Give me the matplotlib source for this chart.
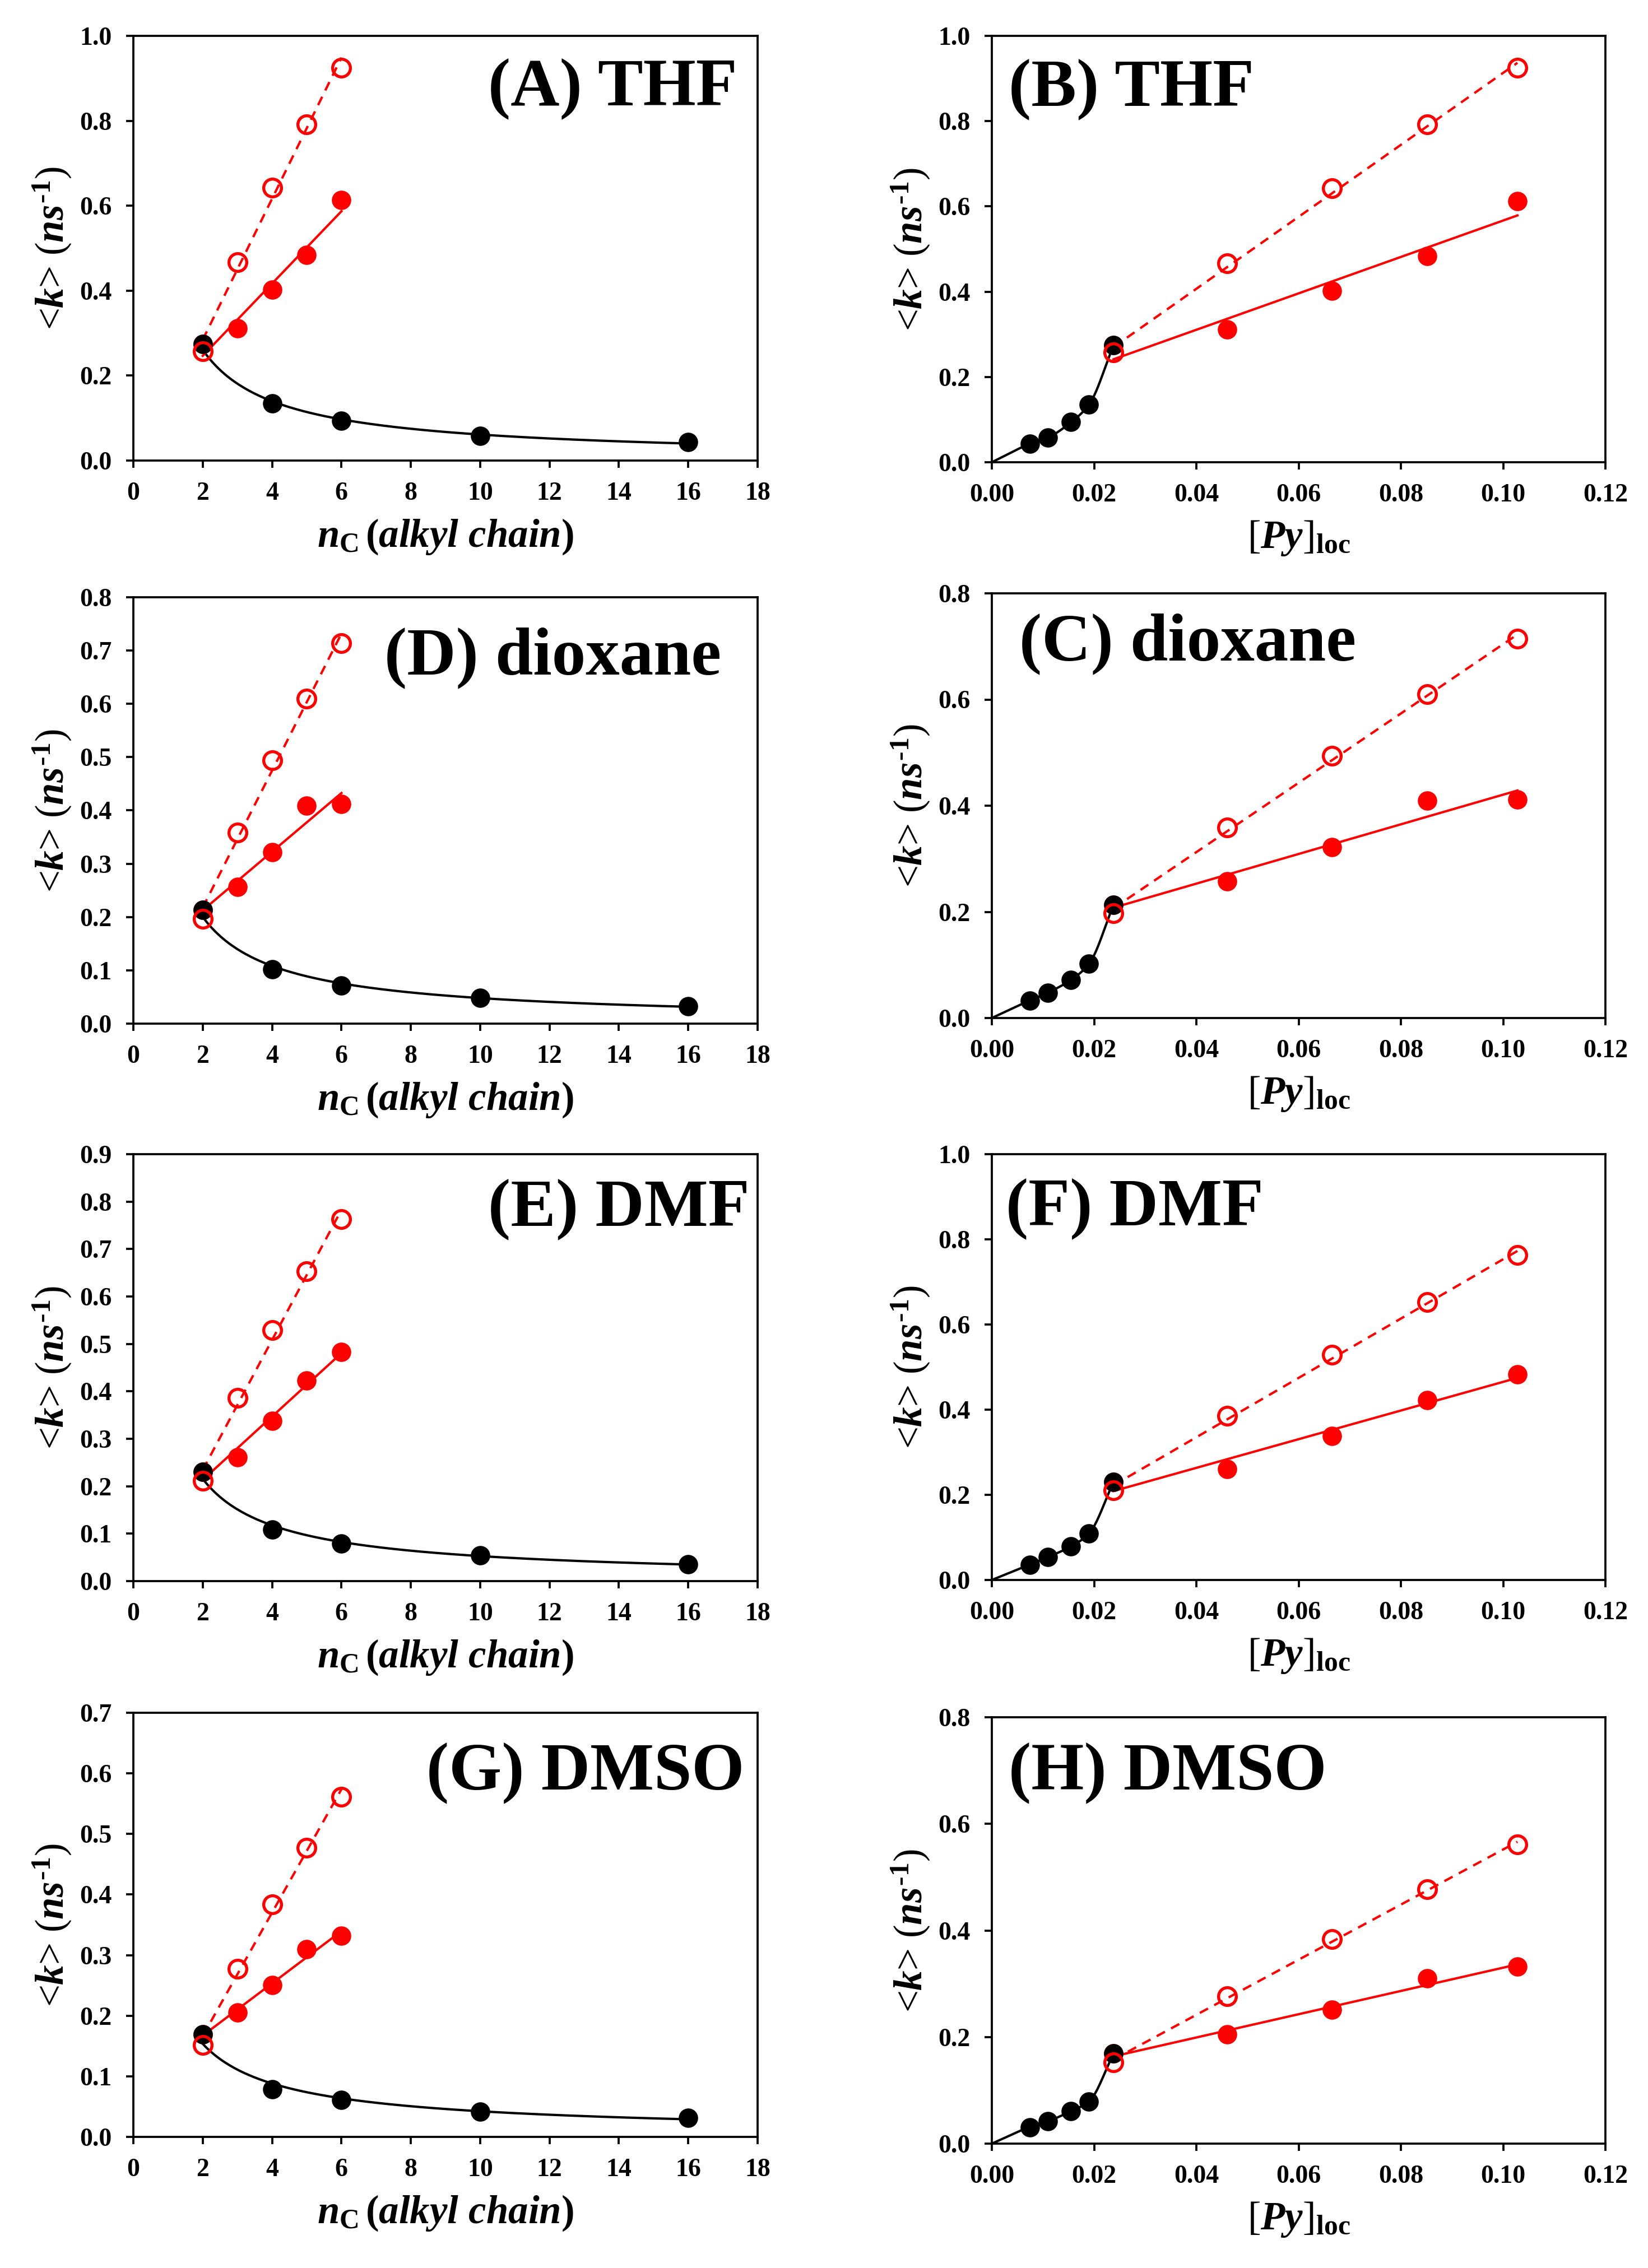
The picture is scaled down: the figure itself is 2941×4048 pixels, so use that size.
import numpy as np
import matplotlib
matplotlib.use('Agg')
import matplotlib.pyplot as plt

plt.rcParams.update({
    'font.family': 'Liberation Serif',
    'font.weight': 'bold',
    'mathtext.fontset': 'custom',
    'mathtext.rm': 'Liberation Serif:bold',
    'mathtext.it': 'Liberation Serif:italic:bold',
    'mathtext.bf': 'Liberation Serif:bold',
    'axes.linewidth': 0.9,
})

# x values
n_black = [2, 4, 6, 10, 16]
n_red = [2, 3, 4, 5, 6]
py_black = [0.0238, 0.0190, 0.0155, 0.0110, 0.0074]
py_red = [0.0238, 0.0460, 0.0665, 0.0852, 0.1028]

# <k> values (ns-1)
thf_black = [0.274, 0.135, 0.094, 0.058, 0.043]
thf_filled = [0.274, 0.311, 0.402, 0.484, 0.613]
thf_open = [0.257, 0.467, 0.642, 0.792, 0.925]

diox_black = [0.213, 0.102, 0.072, 0.048, 0.033]
diox_filled = [0.213, 0.257, 0.322, 0.409, 0.412]
diox_open = [0.197, 0.359, 0.494, 0.610, 0.714]

dmf_black = [0.230, 0.109, 0.079, 0.054, 0.036]
dmf_filled = [0.230, 0.261, 0.338, 0.423, 0.483]
dmf_open = [0.211, 0.386, 0.529, 0.653, 0.763]

dmso_black = [0.169, 0.079, 0.061, 0.042, 0.031]
dmso_filled = [0.169, 0.205, 0.251, 0.310, 0.332]
dmso_open = [0.152, 0.277, 0.384, 0.477, 0.561]

W, H = 2941, 4048
fig = plt.figure(figsize=(W / 300, H / 300), dpi=300)

RED = '#ff0000'
YLAB = '<$\\mathit{k}$> ($\\mathit{ns}^{\\mathrm{\u20101}}$)'
XLAB_L = r'$\mathit{n}_{\mathrm{C}}\,\mathit{(alkyl\ chain)}$'
XLAB_R = r'[$\mathit{Py}$]$_{\mathrm{loc}}$'


def pchip(x, y, xs):
    # monotone cubic curve through the points (for the connecting line only)
    x = np.asarray(x, float)
    y = np.asarray(y, float)
    h = np.diff(x)
    d = np.diff(y) / h
    m = np.zeros_like(y)
    m[0], m[-1] = d[0], d[-1]
    for i in range(1, len(x) - 1):
        if d[i - 1] * d[i] > 0:
            w1 = 2 * h[i] + h[i - 1]
            w2 = h[i] + 2 * h[i - 1]
            m[i] = (w1 + w2) / (w1 / d[i - 1] + w2 / d[i])
    idx = np.clip(np.searchsorted(x, xs) - 1, 0, len(h) - 1)
    t = (xs - x[idx]) / h[idx]
    h00 = 2 * t**3 - 3 * t**2 + 1
    h10 = t**3 - 2 * t**2 + t
    h01 = -2 * t**3 + 3 * t**2
    h11 = t**3 - t**2
    return h00 * y[idx] + h10 * h[idx] * m[idx] + h01 * y[idx + 1] + h11 * h[idx] * m[idx + 1]


def style(ax, xmax, xstep, xfmt, ymax, ystep):
    ax.set_xlim(0, xmax)
    ax.set_ylim(0, ymax)
    ax.set_xticks(np.arange(0, xmax + xstep / 2, xstep))
    ax.set_yticks(np.arange(0, ymax + ystep / 2, ystep))
    ax.xaxis.set_major_formatter(plt.FormatStrFormatter(xfmt))
    ax.yaxis.set_major_formatter(plt.FormatStrFormatter('%.1f'))
    ax.tick_params(direction='out', length=3.2, width=0.9, labelsize=11, pad=6,
                   top=False, right=False)
    ax.set_ylabel(YLAB, fontsize=17, labelpad=3)


def red_series(ax, x, filled, opened):
    xs = np.linspace(min(x), max(x), 50)
    pf = np.polyfit(x, filled, 1)
    po = np.polyfit(x, opened, 1)
    ax.plot(xs, np.polyval(pf, xs), color=RED, lw=1.0, zorder=2)
    ax.plot(xs, np.polyval(po, xs), color=RED, lw=1.0, dashes=(4, 3), zorder=2)
    ax.plot(x, filled, 'o', color=RED, ms=7.3, zorder=3)


def left_panel(rect, black, filled, opened, label, ymax, ystep, lx, ly):
    ax = fig.add_axes(rect)
    b = np.polyfit(np.log(n_black), np.log(black), 1)
    nn = np.linspace(2, 16, 200)
    ax.plot(nn, np.exp(np.polyval(b, np.log(nn))), color='black', lw=1.0, zorder=2)
    red_series(ax, n_red, filled, opened)
    ax.plot(n_black, black, 'o', color='black', ms=7.3, zorder=4)
    ax.plot(n_red, opened, 'o', mfc='none', mec=RED, mew=1.3, ms=7.6, zorder=5)
    style(ax, 18, 2, '%d', ymax, ystep)
    ax.set_xlabel(XLAB_L, fontsize=17, labelpad=5)
    ax.text(lx, ly, label, transform=ax.transAxes, ha='right', va='baseline',
            fontsize=29, fontweight='bold')


def right_panel(rect, black, filled, opened, label, ymax, lx, ly):
    ax = fig.add_axes(rect)
    order = np.argsort(py_black)
    xb = np.r_[0.0, np.array(py_black)[order]]
    yb = np.r_[0.0, np.array(black)[order]]
    xs = np.linspace(0, xb[-1], 300)
    ax.plot(xs, pchip(xb, yb, xs), color='black', lw=1.0, zorder=2)
    red_series(ax, py_red, filled, opened)
    ax.plot(py_black, black, 'o', color='black', ms=7.3, zorder=4)
    ax.plot(py_red, opened, 'o', mfc='none', mec=RED, mew=1.3, ms=7.6, zorder=5)
    style(ax, 0.12, 0.02, '%.2f', ymax, 0.2)
    ax.set_xlabel(XLAB_R, fontsize=17, labelpad=5)
    ax.text(lx, ly, label, transform=ax.transAxes, ha='left', va='baseline',
            fontsize=29, fontweight='bold')


def rect(left, right, top, bottom):
    return [left / W, 1 - bottom / H, (right - left) / W, (bottom - top) / H]


LX0, LX1 = 238, 1352
RX0, RX1 = 1770, 2865

left_panel(rect(LX0, LX1, 64, 822), thf_black, thf_filled, thf_open,
           '(A) THF', 1.0, 0.2, 0.967, 0.836)
right_panel(rect(RX0, RX1, 64, 825), thf_black, thf_filled, thf_open,
            '(B) THF', 1.0, 0.027, 0.836)

left_panel(rect(LX0, LX1, 1066, 1827), diox_black, diox_filled, diox_open,
           '(D) dioxane', 0.8, 0.1, 0.942, 0.82)
right_panel(rect(RX0, RX1, 1059, 1817), diox_black, diox_filled, diox_open,
            '(C) dioxane', 0.8, 0.045, 0.843)

left_panel(rect(LX0, LX1, 2060, 2822), dmf_black, dmf_filled, dmf_open,
           '(E) DMF', 0.9, 0.1, 0.987, 0.832)
right_panel(rect(RX0, RX1, 2060, 2820), dmf_black, dmf_filled, dmf_open,
            '(F) DMF', 1.0, 0.023, 0.832)

left_panel(rect(LX0, LX1, 3057, 3814), dmso_black, dmso_filled, dmso_open,
           '(G) DMSO', 0.7, 0.1, 0.979, 0.819)
right_panel(rect(RX0, RX1, 3065, 3826), dmso_black, dmso_filled, dmso_open,
            '(H) DMSO', 0.8, 0.027, 0.83)

fig.savefig('out.png', dpi=300, facecolor='white')
